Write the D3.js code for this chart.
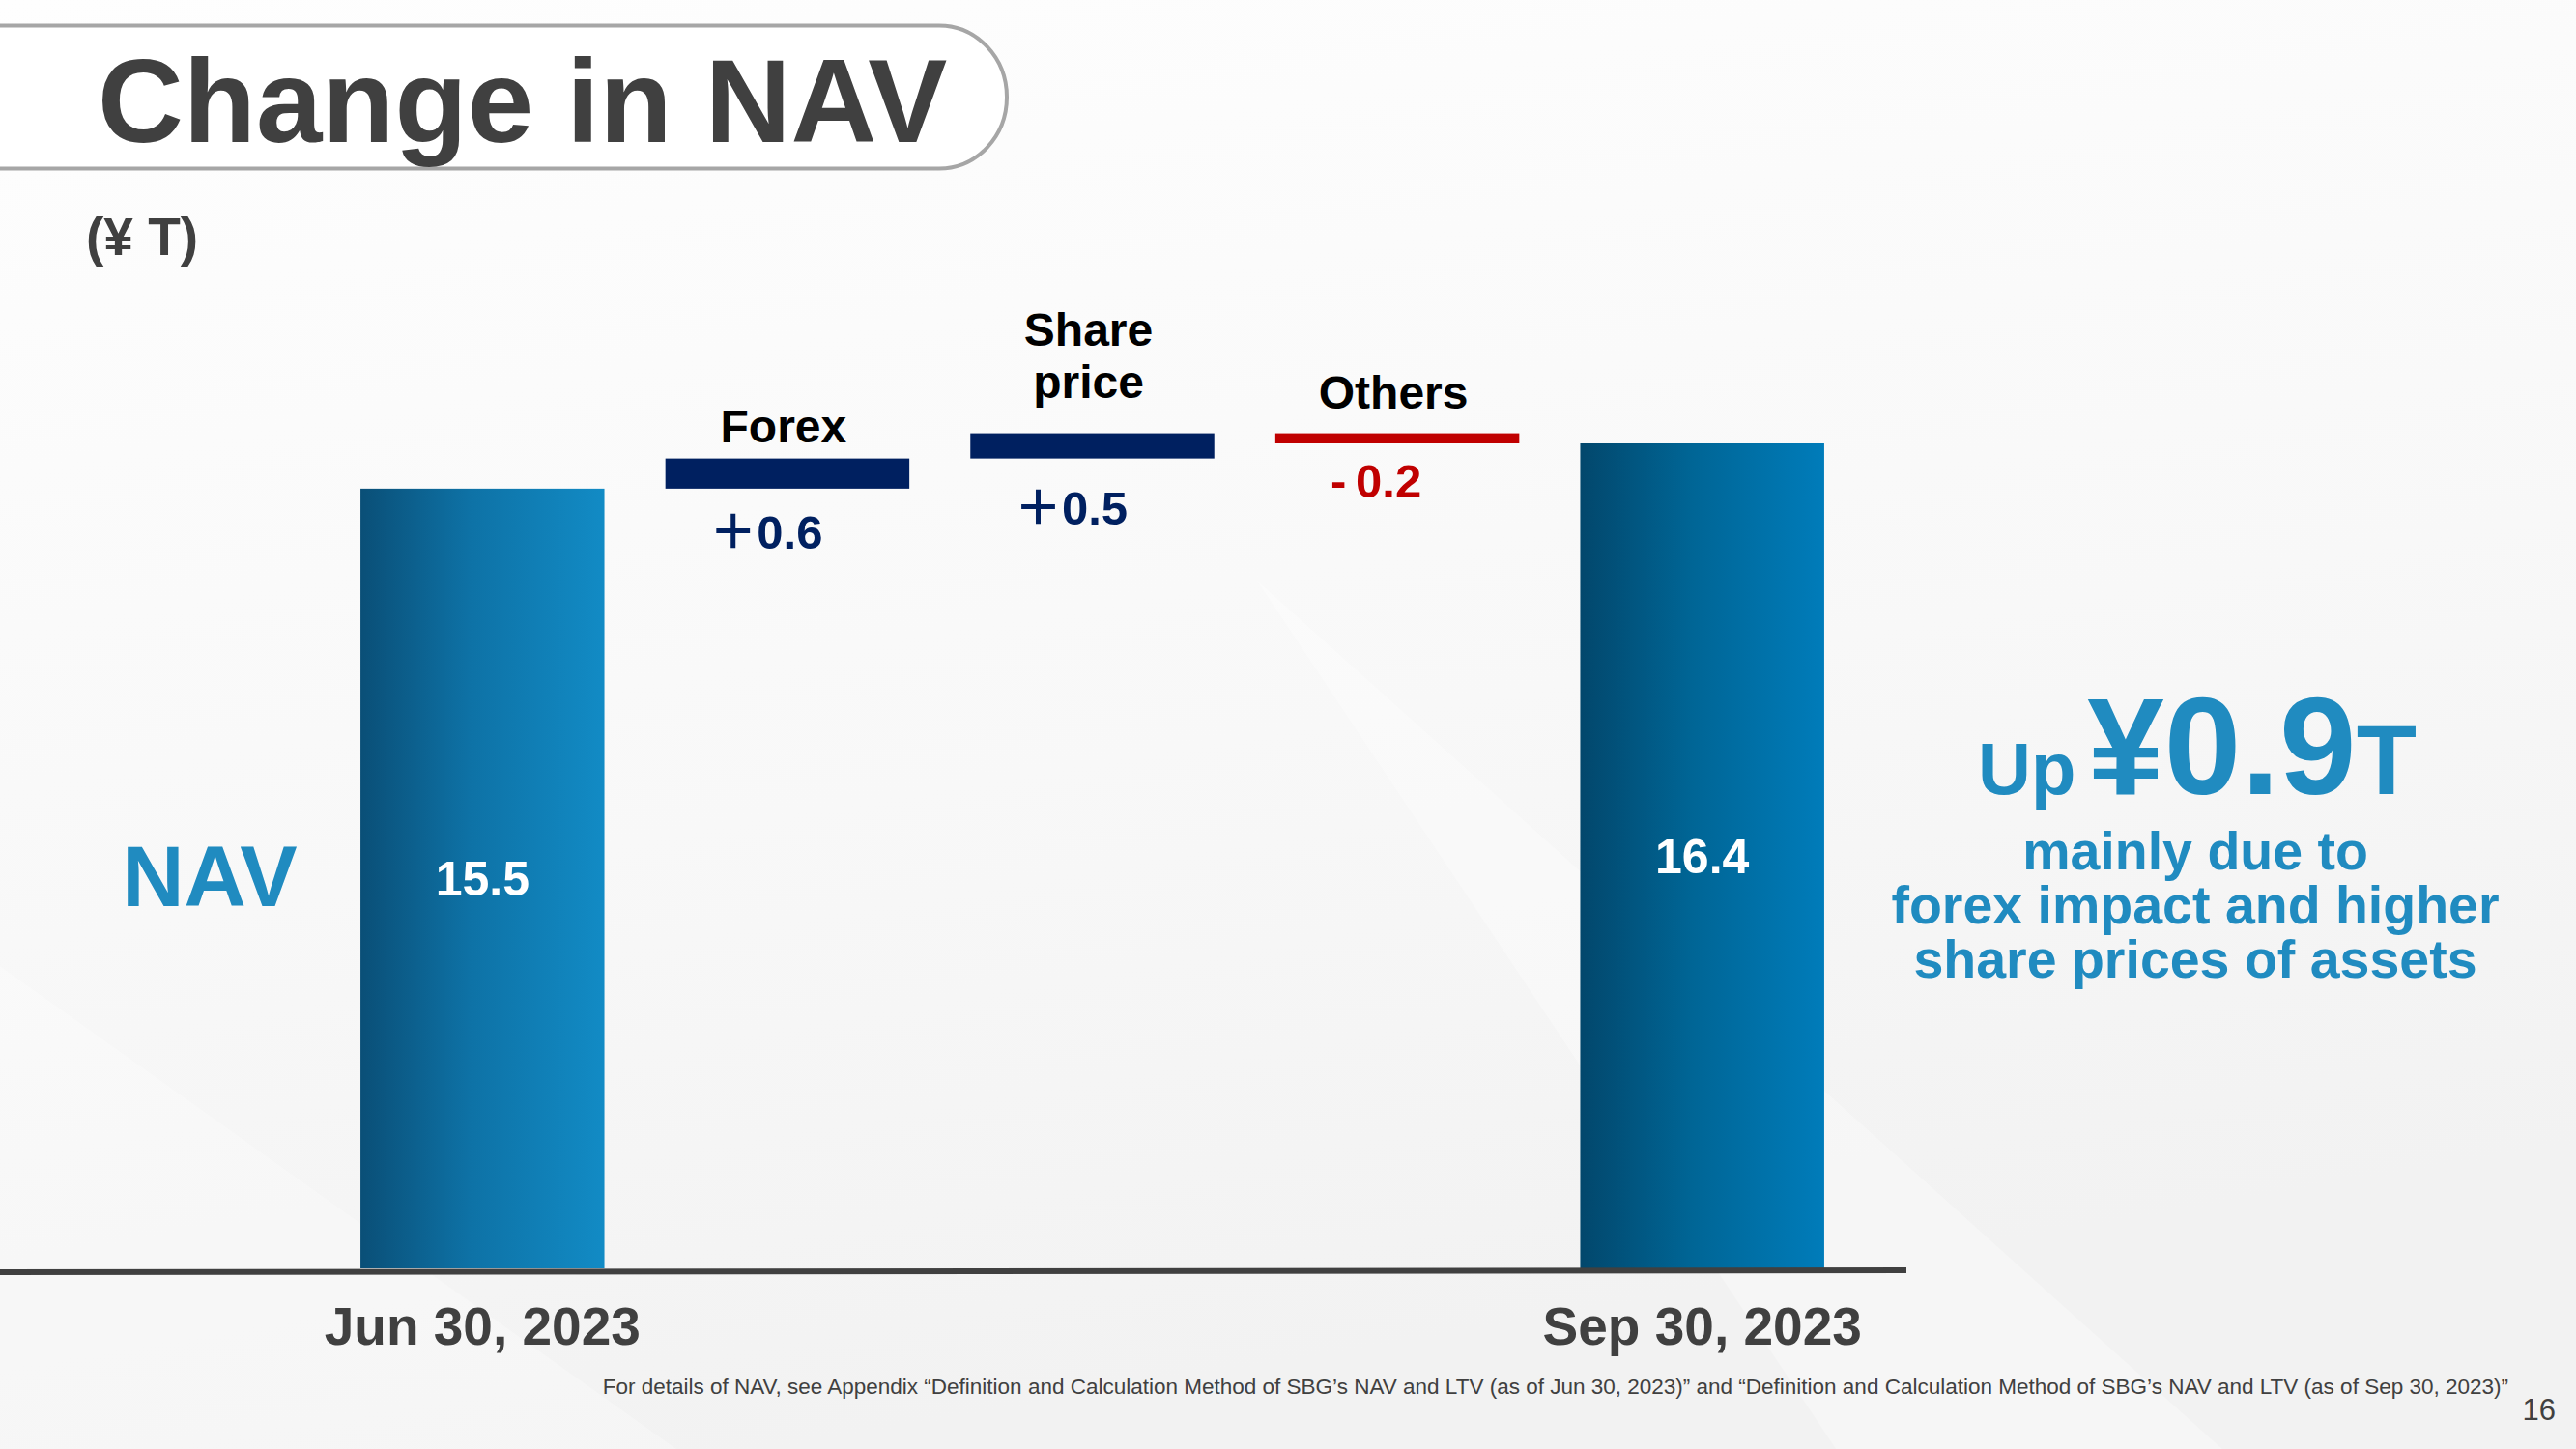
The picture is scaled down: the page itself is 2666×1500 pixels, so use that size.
<!DOCTYPE html>
<html>
<head>
<meta charset="utf-8">
<script src="https://cdn.jsdelivr.net/npm/d3@7"></script>
<style>
  html, body { margin: 0; padding: 0; background: #ffffff; }
  svg { display: block; }
  text { font-family: "Liberation Sans", Arial, "Noto Sans CJK JP", sans-serif; }
</style>
</head>
<body>
<svg id="chart" width="2666" height="1500"></svg>
<script>
// ---- data ----
const categories = ["Jun 30, 2023", "Forex", "Share price", "Others", "Sep 30, 2023"];
const kinds = ["total", "delta", "delta", "delta", "total"];
const values = [15.5, 0.6, 0.5, -0.2, 16.4];
const valueLabels = ["15.5", "\uFF0B0.6", "\uFF0B0.5", "-\u20090.2", "16.4"];
const categoryLabelLines = [[], ["Forex"], ["Share", "price"], ["Others"], []];
const unitLabel = "(¥ T)";
const titleText = "Change in NAV";
const seriesName = "NAV";
const headlineParts = ["Up", "¥0.9", "T"];
const commentLines = ["mainly due to", "forex impact and higher", "share prices of assets"];
const footnote = "For details of NAV, see Appendix \u201CDefinition and Calculation Method of SBG\u2019s NAV and LTV (as of Jun 30, 2023)\u201D and \u201CDefinition and Calculation Method of SBG\u2019s NAV and LTV (as of Sep 30, 2023)\u201D";
const pageNumber = "16";

// ---- setup ----
const W = 2666, H = 1500;
const svg = d3.select("#chart");
const defs = svg.append("defs");

const bg = defs.append("linearGradient").attr("id", "bg").attr("x1", 0).attr("y1", 0).attr("x2", 0.3).attr("y2", 1);
bg.append("stop").attr("offset", "0%").attr("stop-color", "#fefefe");
bg.append("stop").attr("offset", "60%").attr("stop-color", "#f8f8f8");
bg.append("stop").attr("offset", "100%").attr("stop-color", "#f2f2f2");
svg.append("rect").attr("width", W).attr("height", H).attr("fill", "url(#bg)");
svg.append("path").attr("d", "M1300,600 L1900,1500 L2300,1500 Z").attr("fill", "#ffffff").attr("opacity", 0.3);
svg.append("path").attr("d", "M0,1000 L700,1500 L0,1500 Z").attr("fill", "#ffffff").attr("opacity", 0.25);

const g1 = defs.append("linearGradient").attr("id", "gJun").attr("x1", 0).attr("x2", 1).attr("y1", 0).attr("y2", 0);
g1.append("stop").attr("offset", "0%").attr("stop-color", "#0a4f77");
g1.append("stop").attr("offset", "45%").attr("stop-color", "#0e72a6");
g1.append("stop").attr("offset", "100%").attr("stop-color", "#128bc5");
const g2 = defs.append("linearGradient").attr("id", "gSep").attr("x1", 0).attr("x2", 1).attr("y1", 0).attr("y2", 0);
g2.append("stop").attr("offset", "0%").attr("stop-color", "#02476c");
g2.append("stop").attr("offset", "45%").attr("stop-color", "#006595");
g2.append("stop").attr("offset", "100%").attr("stop-color", "#007cba");

// ---- title ----
svg.append("path")
  .attr("d", "M-10,26.5 H972 A70,74 0 0 1 1042,100.5 A70,74 0 0 1 972,174.5 H-10 Z")
  .attr("fill", "#ffffff").attr("stroke", "#a6a6a6").attr("stroke-width", 4);
svg.append("text").attr("x", 101).attr("y", 147)
  .attr("font-size", 123).attr("font-weight", "bold").attr("fill", "#404040").text(titleText);
svg.append("text").attr("x", 89).attr("y", 264)
  .attr("font-size", 55).attr("font-weight", "bold").attr("fill", "#404040").text(unitLabel);

// ---- scales ----
const x = d3.scaleBand().domain(categories).range([341.5, 1919.5]).paddingInner(0.2).paddingOuter(0.1);
const y = d3.scaleLinear().domain([0, 16.4]).range([1313, 459]);

let run = 0;
const items = categories.map((c, i) => {
  let y0, y1;
  if (kinds[i] === "total") { y0 = 0; y1 = values[i]; run = values[i]; }
  else { y0 = run; y1 = run + values[i]; run = y1; }
  return { c, i, kind: kinds[i], v: values[i], y0, y1, label: valueLabels[i] };
});

const fillFor = d => d.kind === "total" ? (d.i === 0 ? "url(#gJun)" : "url(#gSep)") : (d.v >= 0 ? "#002060" : "#c00000");
const textColor = d => d.v >= 0 ? "#002060" : "#c00000";

svg.append("g").selectAll("rect").data(items).join("rect")
  .attr("x", d => x(d.c))
  .attr("width", x.bandwidth())
  .attr("y", d => y(Math.max(d.y0, d.y1)))
  .attr("height", d => Math.abs(y(d.y0) - y(d.y1)))
  .attr("fill", fillFor);

// baseline
svg.append("line").attr("x1", 0).attr("x2", 1973).attr("y1", 1317).attr("y2", 1315)
  .attr("stroke", "#404040").attr("stroke-width", 6);

// x axis labels (totals only)
const xAxis = d3.axisBottom(x).tickSize(0).tickFormat((d, i) => kinds[i] === "total" ? d : "");
const ax = svg.append("g").attr("transform", `translate(0,${y(0)})`).call(xAxis);
ax.select(".domain").remove();
ax.selectAll("text")
  .attr("y", 79).attr("dy", 0)
  .attr("font-size", 55).attr("font-weight", "bold").attr("fill", "#404040")
  .attr("font-family", "'Liberation Sans', Arial, sans-serif");

// total value labels (inside bars)
svg.append("g").selectAll("text").data(items.filter(d => d.kind === "total")).join("text")
  .attr("x", d => x(d.c) + x.bandwidth() / 2)
  .attr("y", d => (y(0) + y(d.y1)) / 2 + 18)
  .attr("text-anchor", "middle").attr("font-size", 50).attr("font-weight", "bold")
  .attr("fill", "#ffffff").text(d => d.label);

// delta value labels (below bars)
const valueGap = { 1: 62, 2: 68, 3: 56 };
svg.append("g").selectAll("text").data(items.filter(d => d.kind === "delta")).join("text")
  .attr("x", d => x(d.c) + x.bandwidth() / 2 - 22)
  .attr("y", d => y(Math.min(d.y0, d.y1)) + valueGap[d.i])
  .attr("text-anchor", "middle").attr("font-size", 49).attr("font-weight", "bold")
  .attr("fill", textColor).text(d => d.label);

// delta category labels (above bars)
const catGap = { 1: 17, 2: 37, 3: 26 };
items.filter(d => d.kind === "delta").forEach(d => {
  const lines = categoryLabelLines[d.i];
  const base = y(Math.max(d.y0, d.y1)) - catGap[d.i];
  lines.forEach((ln, k) => {
    svg.append("text")
      .attr("x", x(d.c) + x.bandwidth() / 2 - 4)
      .attr("y", base - (lines.length - 1 - k) * 54)
      .attr("text-anchor", "middle").attr("font-size", 48).attr("font-weight", "bold")
      .attr("fill", "#000000").text(ln);
  });
});

// series name
svg.append("text").attr("x", 217).attr("y", 938).attr("text-anchor", "middle")
  .attr("font-size", 89).attr("font-weight", "bold").attr("fill", "#208bc0").text(seriesName);

// headline
const hl = svg.append("text").attr("x", 2274).attr("y", 822).attr("text-anchor", "middle")
  .attr("font-weight", "bold").attr("fill", "#208bc0");
hl.append("tspan").attr("font-size", 76).text(headlineParts[0]);
hl.append("tspan").attr("font-size", 143).attr("dx", 12).text(headlineParts[1]);
hl.append("tspan").attr("font-size", 102).text(headlineParts[2]);

svg.append("g").selectAll("text").data(commentLines).join("text")
  .attr("x", 2272).attr("y", (d, i) => 900 + i * 56)
  .attr("text-anchor", "middle").attr("font-size", 55.5).attr("font-weight", "bold")
  .attr("fill", "#208bc0").text(d => d);

// footnote & page number
svg.append("text").attr("x", 2596).attr("y", 1443).attr("text-anchor", "end")
  .attr("font-size", 22.5).attr("fill", "#404040").text(footnote);
svg.append("text").attr("x", 2645).attr("y", 1470).attr("text-anchor", "end")
  .attr("font-size", 31).attr("fill", "#404040").text(pageNumber);
</script>
</body>
</html>
